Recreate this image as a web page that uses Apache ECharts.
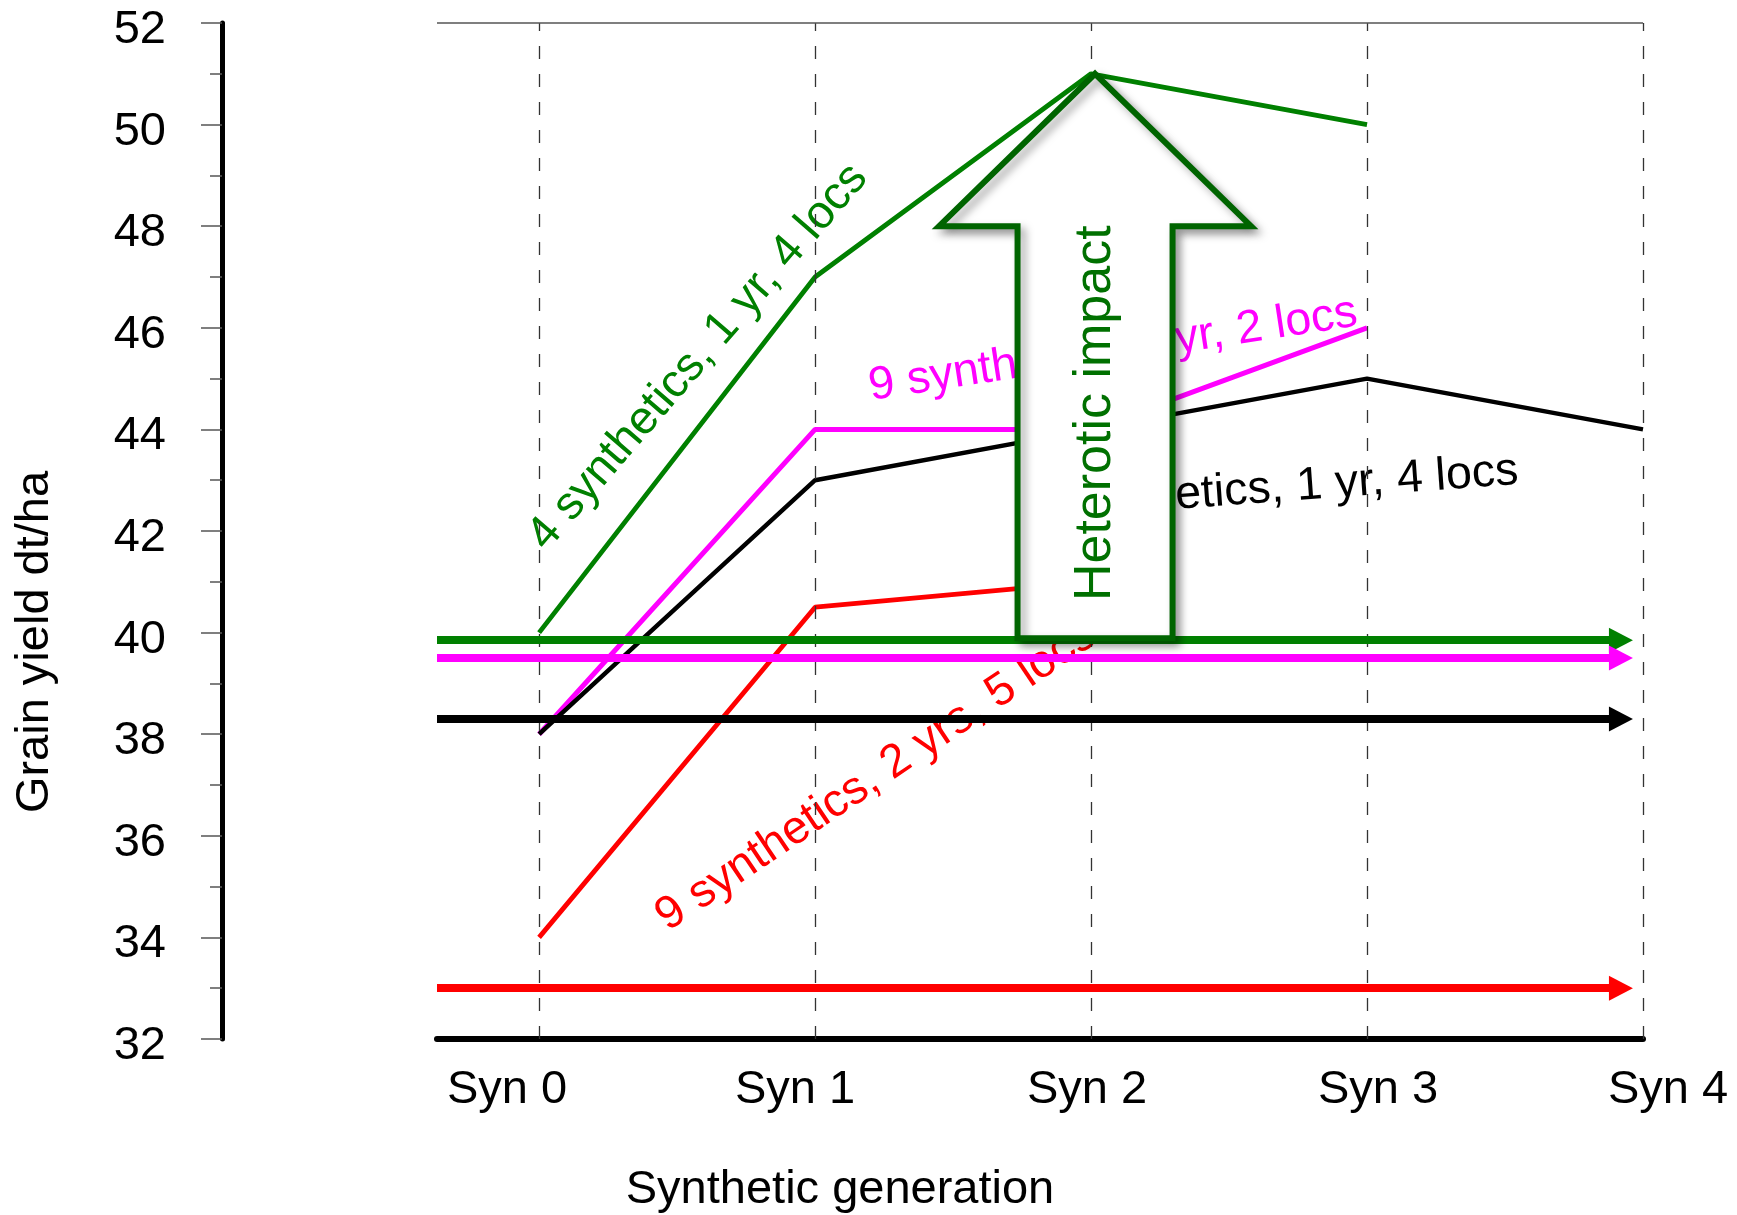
<!DOCTYPE html>
<html><head><meta charset="utf-8">
<script src="https://cdn.jsdelivr.net/npm/echarts@6/dist/echarts.min.js"></script>
<style>html,body{margin:0;padding:0;background:#fff}#c{width:1737px;height:1215px}</style>
</head><body><div id="c"></div>
<script>
// ---- data ----
const generations = [0, 1, 2, 3, 4];
const xLabels = ['Syn 0', 'Syn 1', 'Syn 2', 'Syn 3', 'Syn 4'];
const yTicks = [32, 34, 36, 38, 40, 42, 44, 46, 48, 50, 52];
const green4syn = [40, 47, 51, 50];          // 4 synthetics, 1 yr, 4 locs
const magenta9syn = [38, 44, 44, 46];        // 9 synthetics, 1 yr, 2 locs
const black9syn = [38, 43, 44, 45, 44];      // ... synthetics, 1 yr, 4 locs
const red9syn = [34, 40.5, 41];              // 9 synthetics, 2 yrs, 5 locs
const baselines = [39.85, 39.5, 38.3, 33.0]; // green, magenta, black, red reference levels
const baselineX = [-0.37, 3.92];
const impactArrow = [2, 51, 48];             // x, tip y, head base y (base = green baseline)
const labelTexts = ['4 synthetics, 1 yr, 4 locs', '9 synthetics, 1 yr, 2 locs', '9 synthetics, 1 yr, 4 locs', '9 synthetics, 2 yrs, 5 locs'];

// ---- styles ----
const FONT = "'Liberation Sans', Arial, sans-serif";
const colors = ['#008000', '#ff00ff', '#000000', '#ff0000'];
const widths = [4.8, 5, 4.5, 4.8];
const labelShift = [-32, -20, -4, 11, 25];
const rich = {};
labelShift.forEach((d, i) => {
  rich['s' + i] = {
    fontSize: 47, fontFamily: FONT, color: '#000',
    padding: d < 0 ? [0, -2 * d, 0, 0] : [0, 0, 0, 2 * d]
  };
});

const seriesData = [green4syn, magenta9syn, black9syn, red9syn];
const lineSeries = seriesData.map((vals, k) => ({
  type: 'line',
  name: labelTexts[k],
  data: vals.map((v, i) => [generations[i], v]),
  showSymbol: false,
  symbol: 'none',
  lineStyle: { color: colors[k], width: widths[k] },
  z: 3,
  markLine: {
    silent: true,
    symbol: ['none', 'triangle'],
    symbolSize: [25, 24],
    label: { show: false },
    lineStyle: { color: colors[k], width: 8, type: 'solid' },
    emphasis: { disabled: true },
    data: [[{ coord: [baselineX[0], baselines[k]] }, { coord: [baselineX[1], baselines[k]] }]]
  }
}));

const helper = {
  type: 'line',
  data: [],
  z: 1,
  markLine: {
    silent: true,
    symbol: ['none', 'none'],
    label: { show: false },
    emphasis: { disabled: true },
    lineStyle: { color: '#333', width: 1.3, type: [13, 15] },
    data: generations.map(g => ({ xAxis: g })).concat([
      { yAxis: yTicks[yTicks.length - 1], lineStyle: { color: '#555', width: 1.5, type: 'solid' } }
    ])
  }
};

const arrowSeries = {
  type: 'custom',
  z: 10,
  silent: true,
  data: [[impactArrow[0], impactArrow[1], impactArrow[2], baselines[0]]],
  renderItem: (params, api) => {
    const tip = api.coord([api.value(0), api.value(1)]);
    const head = api.coord([api.value(0), api.value(2)]);
    const base = api.coord([api.value(0), api.value(3)]);
    const cx = tip[0] + 4, sw = 77.5, hw = 156;
    const pts = [[cx, tip[1]], [cx + hw, head[1]], [cx + sw, head[1]], [cx + sw, base[1] - 2],
                 [cx - sw, base[1] - 2], [cx - sw, head[1]], [cx - hw, head[1]]];
    return {
      type: 'group',
      children: [
        { type: 'polygon', shape: { points: pts },
          style: { fill: '#ffffff', stroke: '#006400', lineWidth: 6, lineJoin: 'miter',
                   shadowBlur: 8, shadowOffsetX: 5, shadowOffsetY: 5, shadowColor: 'rgba(0,0,0,0.35)' } },
        { type: 'text', x: cx + 1, y: (head[1] + base[1]) / 2 - 20, rotation: Math.PI / 2,
          style: { text: 'Heterotic impact', fontSize: 52, fontFamily: FONT, fill: '#007000',
                   align: 'center', verticalAlign: 'middle' } }
      ]
    };
  }
};

function rotText(text, x, y, deg, color, size) {
  return { type: 'text', x: x, y: y, rotation: deg * Math.PI / 180, z: 1, silent: true,
    style: { text: text, fontSize: size || 46, fontFamily: FONT, fill: color, align: 'center', verticalAlign: 'middle' } };
}

const option = {
  animation: false,
  backgroundColor: '#ffffff',
  grid: { left: 437, right: 94, top: 23, bottom: 176, containLabel: false },
  xAxis: {
    type: 'value', min: baselineX[0], max: generations[generations.length - 1],
    axisLine: { show: true, onZero: false, lineStyle: { color: '#000', width: 6 } },
    axisTick: { show: false },
    splitLine: { show: false },
    axisLabel: {
      customValues: generations,
      margin: 28,
      fontSize: 47, fontFamily: FONT, color: '#000',
      formatter: v => { const i = Math.round(v); return '{s' + i + '|' + xLabels[i] + '}'; },
      rich: rich
    }
  },
  yAxis: {
    type: 'value', min: yTicks[0], max: yTicks[yTicks.length - 1], interval: 2,
    offset: 215,
    axisLine: { show: true, onZero: false, lineStyle: { color: '#000', width: 5 } },
    axisTick: { show: true, inside: false, length: 21, lineStyle: { color: '#555', width: 1.5 } },
    minorTick: { show: true, splitNumber: 2, length: 12, lineStyle: { color: '#555', width: 1.5 } },
    splitLine: { show: false },
    axisLabel: {
      margin: 56, fontSize: 47, fontFamily: FONT, color: '#000',
      formatter: v => '{n|' + v + '}',
      rich: { n: { fontSize: 47, fontFamily: FONT, color: '#000', padding: [14, 0, 0, 0] } }
    }
  },
  graphic: [
    rotText('Grain yield dt/ha', 35, 642, 90, '#000', 47),
    rotText('Synthetic generation', 840, 1190, 0, '#000', 47),
    rotText(labelTexts[0], 698, 357, 49.2, colors[0], 46.5),
    rotText(labelTexts[1], 1113, 350, 8.7, colors[1], 46.5),
    rotText(labelTexts[2], 1272, 489, 4.15, colors[2], 46.5),
    rotText(labelTexts[3], 876, 776, 34, colors[3], 46.5)
  ],
  series: [helper].concat(lineSeries).concat([arrowSeries])
};

const chart = echarts.init(document.getElementById('c'), null, { renderer: 'canvas' });
chart.setOption(option);
</script>
</body></html>
